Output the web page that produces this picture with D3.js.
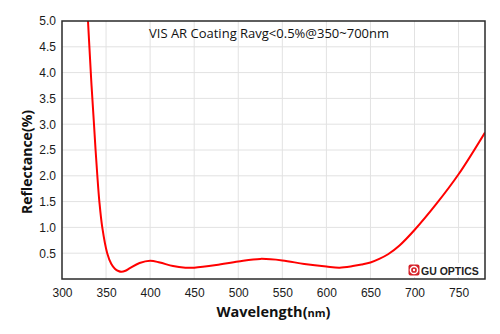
<!DOCTYPE html>
<html>
<head>
<meta charset="utf-8">
<script src="https://cdn.jsdelivr.net/npm/d3@7"></script>
<style>
  body { margin: 0; background: #fff; }
  svg { display: block; }
</style>
</head>
<body>
<div id="chart"></div>
<script>
// Reflectance curve of the VIS AR coating
const wavelength = [326, 329.5, 333, 336.3, 338.1, 340.1, 342.4, 345.7, 351.3, 356, 360, 364, 367.5, 372, 377, 388, 400, 411, 426, 440, 450, 475, 500, 525, 550, 575, 600, 615, 630, 640, 650, 660, 670, 683, 700, 725, 750, 780];
const reflectance = [6.1, 5.0, 3.9, 3.0, 2.5, 2.0, 1.5, 1.0, 0.5, 0.29, 0.2, 0.155, 0.14, 0.16, 0.21, 0.31, 0.355, 0.32, 0.25, 0.22, 0.22, 0.27, 0.34, 0.39, 0.36, 0.29, 0.24, 0.22, 0.25, 0.28, 0.32, 0.39, 0.48, 0.65, 0.95, 1.46, 2.03, 2.84];
const xTicks = [300, 350, 400, 450, 500, 550, 600, 650, 700, 750];
const yTicks = [0.5, 1.0, 1.5, 2.0, 2.5, 3.0, 3.5, 4.0, 4.5, 5.0];

const width = 500;
const height = 334;
const margin = { top: 21, right: 15, bottom: 55, left: 62 };
const innerW = width - margin.left - margin.right;
const innerH = height - margin.top - margin.bottom;

const svg = d3.select("#chart")
    .append("svg")
    .attr("width", width)
    .attr("height", height);

const x = d3.scaleLinear().domain([300, 780]).range([0, innerW]);
const y = d3.scaleLinear().domain([0, 5]).range([innerH, 0]);

const g = svg.append("g")
    .attr("transform", `translate(${margin.left},${margin.top})`);

// Grid lines
g.append("g")
    .selectAll("line")
    .data(xTicks.slice(1))
    .join("line")
    .attr("x1", d => x(d)).attr("x2", d => x(d))
    .attr("y1", 0).attr("y2", innerH)
    .attr("stroke", "#e2e2e2")
    .attr("stroke-width", 1);

g.append("g")
    .selectAll("line")
    .data(yTicks.slice(0, -1))
    .join("line")
    .attr("x1", 0).attr("x2", innerW)
    .attr("y1", d => y(d)).attr("y2", d => y(d))
    .attr("stroke", "#e2e2e2")
    .attr("stroke-width", 1);

// Axes (labels only, frame drawn separately)
const xAxis = g.append("g")
    .attr("transform", `translate(0,${innerH})`)
    .call(d3.axisBottom(x).tickValues(xTicks).tickSize(0).tickPadding(9).tickFormat(d3.format("d")));
xAxis.select(".domain").remove();

const yAxis = g.append("g")
    .call(d3.axisLeft(y).tickValues(yTicks).tickSize(0).tickPadding(6).tickFormat(d3.format(".1f")));
yAxis.select(".domain").remove();

g.selectAll(".tick text")
    .attr("font-family", "'Liberation Sans', Arial, sans-serif")
    .attr("font-size", 12)
    .attr("fill", "#1a1a1a");

// Curve
g.append("clipPath")
    .attr("id", "plot-clip")
    .append("rect")
    .attr("width", innerW)
    .attr("height", innerH);

const line = d3.line()
    .x((d, i) => x(wavelength[i]))
    .y(d => y(d))
    .curve(d3.curveCatmullRom.alpha(0.5));

g.append("path")
    .datum(reflectance)
    .attr("clip-path", "url(#plot-clip)")
    .attr("fill", "none")
    .attr("stroke", "#ff0000")
    .attr("stroke-width", 2)
    .attr("d", line);

// Logo
const logo = g.append("g")
    .attr("transform", `translate(${innerW - 78},${innerH - 16})`);
logo.append("rect")
    .attr("x", 0).attr("y", 0)
    .attr("width", 77).attr("height", 14)
    .attr("fill", "#fff");
logo.append("rect")
    .attr("x", 1.5).attr("y", 1.5)
    .attr("width", 11).attr("height", 11)
    .attr("rx", 2)
    .attr("fill", "#d62028");
logo.append("circle")
    .attr("cx", 7).attr("cy", 7).attr("r", 3.6)
    .attr("fill", "none")
    .attr("stroke", "#fff")
    .attr("stroke-width", 1.5);
logo.append("circle")
    .attr("cx", 7).attr("cy", 7).attr("r", 1.2)
    .attr("fill", "#fff");
logo.append("text")
    .attr("x", 14).attr("y", 11.5)
    .attr("font-family", "'Liberation Sans', Arial, sans-serif")
    .attr("font-weight", "bold")
    .attr("font-size", 10.5)
    .attr("fill", "#222")
    .text("GU OPTICS");

// Frame
g.append("rect")
    .attr("width", innerW)
    .attr("height", innerH)
    .attr("fill", "none")
    .attr("stroke", "#2a2a2a")
    .attr("stroke-width", 1.5);

// Title
svg.append("text")
    .attr("x", 149)
    .attr("y", 38)
    .attr("font-family", "'Open Sans', sans-serif")
    .attr("font-size", 13)
    .attr("fill", "#111")
    .text("VIS AR Coating Ravg<0.5%@350~700nm");

// Axis titles
const xTitle = svg.append("text")
    .attr("x", margin.left + innerW / 2)
    .attr("y", 317)
    .attr("text-anchor", "middle")
    .attr("font-family", "'Open Sans', sans-serif")
    .attr("font-weight", "bold")
    .attr("font-size", 14.5)
    .attr("fill", "#111");
xTitle.append("tspan").text("Wavelength(");
xTitle.append("tspan").attr("font-size", 11).text("nm");
xTitle.append("tspan").text(")");

svg.append("text")
    .attr("transform", `translate(32,162) rotate(-90)`)
    .attr("text-anchor", "middle")
    .attr("font-family", "'Open Sans', sans-serif")
    .attr("font-weight", "bold")
    .attr("font-size", 14)
    .attr("fill", "#111")
    .text("Reflectance(%)");
</script>
</body>
</html>
